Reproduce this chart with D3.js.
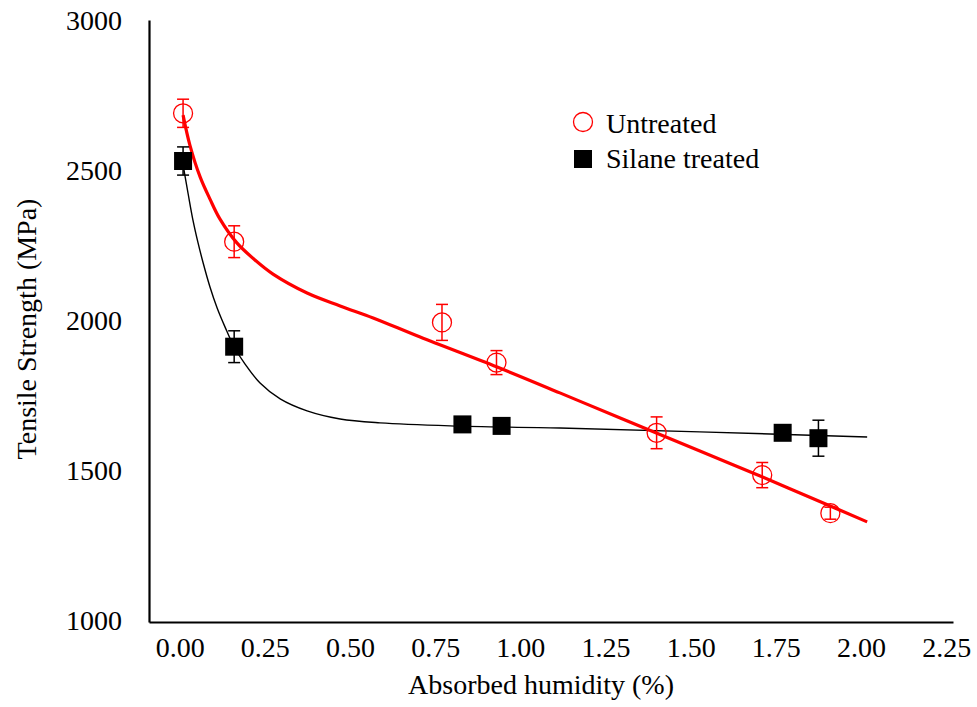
<!DOCTYPE html>
<html>
<head>
<meta charset="utf-8">
<script src="https://cdn.jsdelivr.net/npm/d3@7/dist/d3.min.js"></script>
<style>
  html, body { margin: 0; padding: 0; background: #fff; }
  svg { display: block; }
  text { font-family: "Liberation Serif", "Times New Roman", "DejaVu Serif", serif; fill: #000; }
</style>
</head>
<body>
<svg id="chart" width="977" height="707"></svg>
<script>
// ---- Data ----
const xTicks = [0, 0.25, 0.5, 0.75, 1.0, 1.25, 1.5, 1.75, 2.0, 2.25];
const yTicks = [1000, 1500, 2000, 2500, 3000];

const untreatedX   = [0.01, 0.16, 0.77, 0.93, 1.40, 1.71, 1.91];
const untreatedY   = [2689, 2261, 1992, 1858, 1624, 1483, 1356];
const untreatedErr = [47, 53, 60, 40, 53, 42, 20];

const silaneX   = [0.01, 0.16, 0.83, 0.945, 1.77, 1.875];
const silaneY   = [2530, 1911, 1652, 1647, 1624, 1606];
const silaneErr = [47, 53, 10, 10, 15, 60];

// trend curves
const untreatedFitX = [0.010, 0.030, 0.060, 0.089, 0.118, 0.168, 0.221, 0.274, 0.374, 0.471, 0.568, 0.706, 0.932, 1.116, 1.293, 1.527, 1.704, 1.903, 2.018];
const untreatedFitY = [2683, 2583, 2477, 2403, 2337, 2257, 2200, 2153, 2090, 2047, 2007, 1943, 1843, 1757, 1673, 1563, 1480, 1383, 1327];

const silaneFitX = [0.010, 0.025, 0.039, 0.054, 0.069, 0.089, 0.110, 0.133, 0.160, 0.192, 0.236, 0.295, 0.374, 0.471, 0.588, 0.794, 1.116, 1.527, 2.018];
const silaneFitY = [2517, 2420, 2333, 2257, 2190, 2110, 2040, 1977, 1910, 1853, 1790, 1737, 1697, 1670, 1657, 1647, 1640, 1627, 1610];

// ---- Chart ----
const FONT = '"Liberation Serif", "Times New Roman", "DejaVu Serif", serif';
const FS = 28;
const svg = d3.select("#chart");
const x = d3.scaleLinear().domain([-0.09, 2.27]).range([149, 953]);
const y = d3.scaleLinear().domain([993.3, 3000]).range([622, 20]);

// x axis
const gx = svg.append("g").attr("transform", "translate(0,622)")
  .call(d3.axisBottom(x).tickValues(xTicks).tickFormat(d3.format(".2f")).tickSize(0).tickPadding(0));
gx.attr("font-family", FONT);
gx.select(".domain").attr("stroke", "#000").attr("stroke-width", 2.2);
gx.selectAll(".tick text").attr("font-size", FS).attr("dy", null).attr("y", 35)
  .style("font-family", FONT).attr("fill", "#000");

// y axis
const gy = svg.append("g").attr("transform", "translate(149,0)")
  .call(d3.axisLeft(y).tickValues(yTicks).tickFormat(d3.format("d")).tickSize(0).tickPadding(27));
gy.attr("font-family", FONT);
gy.select(".domain").attr("stroke", "#000").attr("stroke-width", 2.2);
gy.selectAll(".tick text").attr("font-size", FS).attr("dy", "0.33em")
  .style("font-family", FONT).attr("fill", "#000");

// axis titles
svg.append("text").attr("x", 541).attr("y", 694).attr("text-anchor", "middle")
  .attr("font-size", FS).text("Absorbed humidity (%)");
svg.append("text").attr("transform", "translate(36,329) rotate(-90)").attr("text-anchor", "middle")
  .attr("font-size", FS).text("Tensile Strength (MPa)");

// fit lines
const line = d3.line().x(d => x(d[0])).y(d => y(d[1])).curve(d3.curveCatmullRom.alpha(0.5));
svg.append("path").datum(silaneFitX.map((v, i) => [v, silaneFitY[i]]))
  .attr("d", line).attr("fill", "none").attr("stroke", "#000").attr("stroke-width", 1.4);
svg.append("path").datum(untreatedFitX.map((v, i) => [v, untreatedFitY[i]]))
  .attr("d", line).attr("fill", "none").attr("stroke", "#ff0000").attr("stroke-width", 3.2);

// error bars
function errBars(xs, ys, es, color) {
  const g = svg.append("g").attr("stroke", color).attr("stroke-width", 1.5).attr("fill", "none");
  xs.forEach((xv, i) => {
    const cx = x(xv), t = y(ys[i] + es[i]), b = y(ys[i] - es[i]);
    g.append("line").attr("x1", cx).attr("x2", cx).attr("y1", t).attr("y2", b);
    g.append("line").attr("x1", cx - 6).attr("x2", cx + 6).attr("y1", t).attr("y2", t);
    g.append("line").attr("x1", cx - 6).attr("x2", cx + 6).attr("y1", b).attr("y2", b);
  });
}
errBars(untreatedX, untreatedY, untreatedErr, "#ff0000");
errBars(silaneX, silaneY, silaneErr, "#000");

// markers
svg.append("g").selectAll("circle").data(untreatedX.map((v, i) => [v, untreatedY[i]]))
  .join("circle").attr("cx", d => x(d[0])).attr("cy", d => y(d[1])).attr("r", 9.5)
  .attr("fill", "none").attr("stroke", "#ff0000").attr("stroke-width", 1.3);
svg.append("g").selectAll("rect").data(silaneX.map((v, i) => [v, silaneY[i]]))
  .join("rect").attr("x", d => x(d[0]) - 9).attr("y", d => y(d[1]) - 9)
  .attr("width", 18).attr("height", 18).attr("fill", "#000");

// legend
const lg = svg.append("g");
lg.append("circle").attr("cx", 583).attr("cy", 122).attr("r", 9.5)
  .attr("fill", "none").attr("stroke", "#ff0000").attr("stroke-width", 1.3);
lg.append("text").attr("x", 606).attr("y", 133).attr("font-size", FS).text("Untreated");
lg.append("rect").attr("x", 574).attr("y", 150).attr("width", 18).attr("height", 18).attr("fill", "#000");
lg.append("text").attr("x", 606).attr("y", 168).attr("font-size", FS).text("Silane treated");
</script>
</body>
</html>
